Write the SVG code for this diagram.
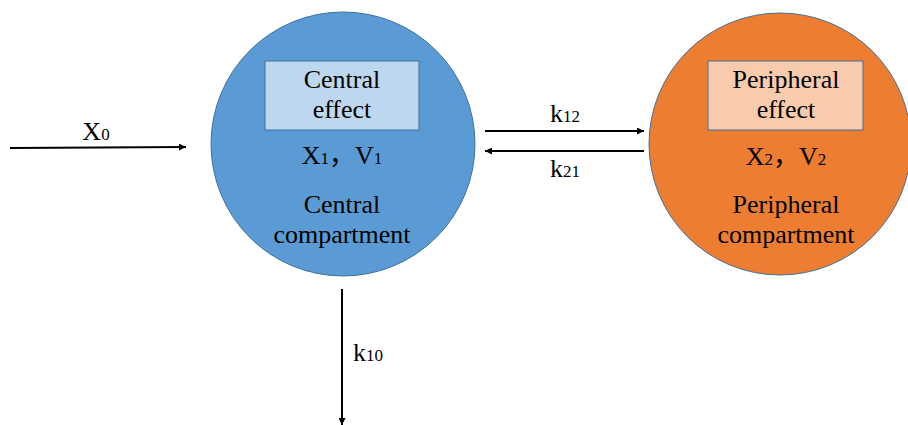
<svg xmlns="http://www.w3.org/2000/svg" width="908" height="425" viewBox="0 0 908 425">
<defs>
<marker id="ah" viewBox="0 0 10 10" refX="10" refY="5" markerWidth="7" markerHeight="7" markerUnits="userSpaceOnUse" orient="auto"><path d="M0,0 L10,5 L0,10 z" fill="#000"/></marker>
<style>
text{font-size:26px;fill:#000;text-anchor:middle}
.s{font-size:17px}
.c{stroke:#41719C;stroke-width:1}
.r{stroke:#41719C;stroke-width:1}
.e{stroke:#000;stroke-width:2;fill:none;marker-end:url(#ah)}
</style>
</defs>
<rect width="908" height="425" fill="#fff"/>
<g font-family="'Liberation Serif', 'Noto Sans CJK SC', serif">
<g id="central">
<circle class="c" cx="343" cy="144" r="132" fill="#5B9BD5"/>
<rect class="r" x="265" y="61" width="154" height="69" fill="#BDD7EE"/>
<text x="342" y="88">Central</text>
<text x="342" y="118">effect</text>
<text x="342" y="164">X<tspan class="s">1</tspan>，V<tspan class="s">1</tspan></text>
<text x="342" y="213">Central</text>
<text x="342" y="243">compartment</text>
</g>
<g id="peripheral">
<circle class="c" cx="780" cy="144" r="131" fill="#ED7D31"/>
<rect class="r" x="708" y="61" width="155" height="69" fill="#F8CBAD"/>
<text x="786" y="88">Peripheral</text>
<text x="786" y="118">effect</text>
<text x="786" y="165">X<tspan class="s">2</tspan>，V<tspan class="s">2</tspan></text>
<text x="786" y="213">Peripheral</text>
<text x="786" y="243">compartment</text>
</g>
<g id="connectors">
<line class="e" x1="10" y1="148" x2="186" y2="147"/>
<line class="e" x1="485" y1="131" x2="644" y2="131"/>
<line class="e" x1="644" y1="151" x2="485" y2="151"/>
<line class="e" x1="342" y1="289" x2="342" y2="425"/>
<text x="96" y="140">X<tspan class="s">0</tspan></text>
<text x="565" y="122">k<tspan class="s">12</tspan></text>
<text x="565" y="177">k<tspan class="s">21</tspan></text>
<text x="368" y="361">k<tspan class="s">10</tspan></text>
</g>
</g>
</svg>
